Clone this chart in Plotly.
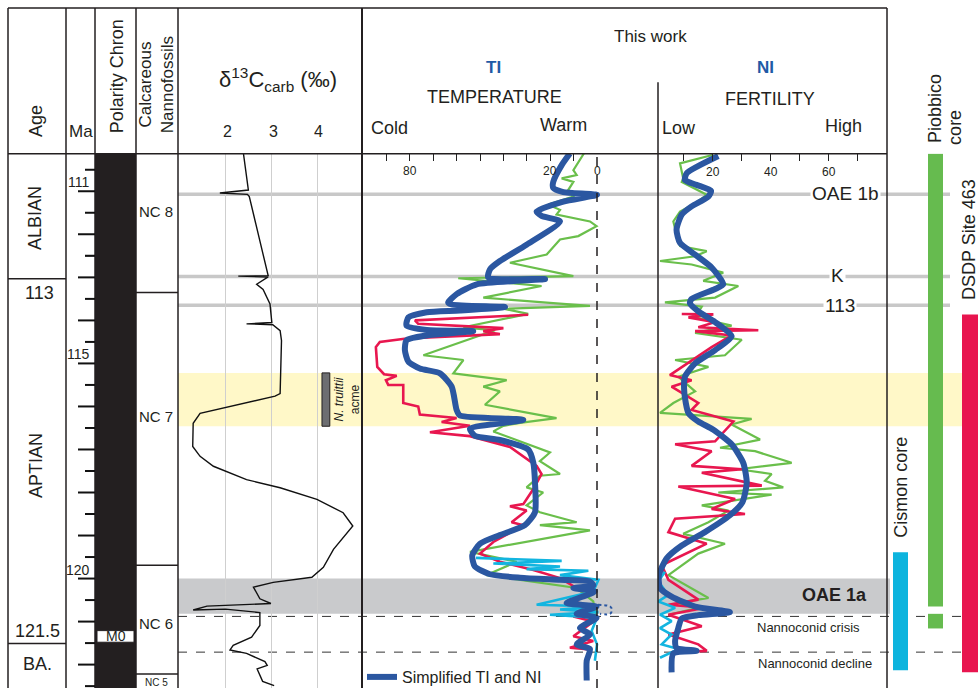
import plotly.graph_objects as go

W, H = 978, 694
FONT = "Liberation Sans, Arial, sans-serif"
DARK = "#231f20"

# ---------------- data ----------------
# delta13C carb (permil) vs age (Ma)
d13c_val = [2.39, 2.46, 2.50, 1.88, 2.48, 2.52, 2.93, 2.28, 2.93, 2.68, 2.82, 2.97, 3.01, 2.46, 3.03, 3.19, 3.22,
            3.19, 3.08, 1.45, 1.30, 1.29, 1.45, 1.74, 2.46, 3.19, 3.99, 4.56, 4.77, 4.35, 4.13, 3.88, 3.04, 2.61,
            2.75, 2.99, 1.60, 1.30, 2.00, 2.75, 2.75, 2.57, 2.17, 2.10, 2.46, 2.86, 2.91, 2.69, 2.81, 3.06]
d13c_age = [110.10, 110.74, 110.97, 111.04, 111.07, 111.12, 112.96, 112.97, 112.99, 113.16, 113.28, 113.62, 114.05,
            114.08, 114.10, 114.24, 114.47, 115.70, 115.76, 116.16, 116.39, 116.93, 117.16, 117.39, 117.70, 117.89,
            118.16, 118.47, 118.78, 119.32, 119.74, 119.97, 120.09, 120.20, 120.47, 120.58, 120.64, 120.73, 120.71,
            120.79, 121.09, 121.36, 121.55, 121.66, 121.74, 121.93, 122.02, 122.10, 122.39, 122.49]

# Temperature index (TI)
ti_blue_val = [11.6, 15.1, 18.7, 18.7, 14.4, 0.0, 14.4, 25.8, 23.7, 15.8, 30.1, 41.5, 45.7, 46.5, 22.2, 51.4, 60.0,
               63.6, 62.1, 39.3, 58.6, 72.8, 80.6, 81.4, 72.8, 52.9, 72.8, 81.4, 82.1, 80.6, 75.7, 67.1, 62.1, 60.0,
               58.6, 31.5, 54.3, 52.2, 41.5, 29.4, 27.2, 26.5, 26.5, 30.8, 41.5, 50.0, 53.3, 52.2, 45.7, 32.9, 15.8,
               3.0, 1.6, 10.1, 0.9, 13.0, 0.2, 8.7, 0.2, 7.3, 3.0, 8.7, 3.0, 4.4, 4.4]
ti_blue_age = [110.12, 110.39, 110.78, 110.92, 111.02, 111.08, 111.24, 111.47, 111.57, 111.70, 112.24, 112.62,
               112.81, 113.00, 113.04, 113.16, 113.39, 113.58, 113.63, 113.69, 113.77, 113.81, 113.93, 114.12,
               114.22, 114.25, 114.35, 114.46, 114.69, 114.96, 115.12, 115.23, 115.54, 116.08, 116.21, 116.31,
               116.52, 116.68, 116.78, 117.00, 117.31, 117.77, 118.46, 118.76, 118.99, 119.19, 119.46, 119.72,
               119.90, 119.98, 120.03, 120.07, 120.16, 120.22, 120.30, 120.57, 120.65, 120.82, 120.91, 121.15,
               121.30, 121.53, 121.64, 121.91, 122.37]

ti_red_val = [29.4, 77.8, 76.4, 40.0, 48.6, 41.5, 81.4, 92.8, 94.5, 93.9, 91.0, 85.6, 90.2, 89.2, 82.8, 82.8, 76.4,
              75.7, 60.0, 66.4, 54.3, 71.4, 54.3, 37.2, 25.8, 23.7, 27.2, 31.5, 37.2, 30.1, 36.5, 31.5, 44.3, 50.0,
              41.5, 27.2, 15.8, 8.7, 1.6, 10.1, 1.6, 10.1, 1.6, 7.3, 10.1, 1.6, 11.6, 3.0, 3.7]
ti_red_age = [113.87, 114.00, 114.08, 114.18, 114.25, 114.32, 114.42, 114.50, 114.62, 115.08, 115.25, 115.29,
              115.39, 115.50, 115.50, 115.92, 116.00, 116.19, 116.27, 116.36, 116.45, 116.60, 116.69, 116.94,
              117.38, 117.57, 117.92, 118.27, 118.32, 118.42, 118.69, 118.76, 119.15, 119.42, 119.61, 119.80,
              119.99, 120.22, 120.30, 120.53, 120.68, 120.88, 121.00, 121.22, 121.34, 121.45, 121.61, 121.65, 121.84]

ti_green_val = [5.6, 10.1, 8.7, 15.1, 10.1, 12.3, 10.1, 20.8, 15.8, 17.3, 3.0, 0.2, 8.0, 15.8, 21.5, 37.2, 10.1,
                59.3, 23.7, 48.6, 18.7, 3.0, 40.0, 29.4, 57.1, 43.6, 74.2, 57.1, 61.4, 38.6, 48.6, 41.5, 47.9, 17.3,
                32.9, 40.0, 44.3, 20.1, 24.4, 15.8, 24.4, 30.1, 23.0, 30.1, 24.4, 8.7, 24.4, 3.0, 54.3, 34.3, 47.2,
                27.2, 8.7, 1.6, 0.2]
ti_green_age = [110.12, 110.51, 110.62, 110.70, 110.78, 110.97, 111.12, 111.31, 111.43, 111.54, 111.70, 111.81,
                112.04, 112.12, 112.47, 112.66, 112.97, 113.02, 113.20, 113.47, 113.60, 113.66, 113.73, 113.85,
                114.16, 114.23, 114.81, 114.92, 115.23, 115.39, 115.54, 115.65, 115.96, 116.27, 116.38, 116.45,
                116.58, 117.07, 117.27, 117.57, 117.61, 117.88, 118.00, 118.30, 118.46, 118.69, 118.76, 118.88,
                119.38, 119.61, 119.92, 120.07, 120.22, 120.53, 120.91]

ti_cyan_val = [51.7, 15.1, 44.3, 15.8, 30.1, 3.7, 15.8, -0.6, 1.6, 25.8, 0.2, 15.8, -0.6, 20.1, 0.0, 2.3, 0.0, 0.9]
ti_cyan_age = [119.52, 119.59, 119.65, 119.72, 119.78, 119.82, 119.92, 120.03, 120.30, 120.61, 120.65, 120.72,
               120.78, 120.84, 120.91, 121.22, 121.53, 121.91]

ti_dotted_val = [-0.4, -5.6, -6.4, -5.6, -1.3]
ti_dotted_age = [120.61, 120.65, 120.72, 120.82, 120.82]

# Nutrient index (NI)
ni_blue_val = [22.0, 11.1, 10.5, 14.5, 19.5, 18.6, 12.8, 9.4, 7.6, 8.8, 14.0, 19.7, 23.7, 20.9, 12.8, 12.2, 15.1,
               20.9, 26.6, 20.9, 14.0, 10.5, 10.3, 11.7, 15.1, 20.3, 26.6, 30.6, 31.8, 30.3, 26.0, 17.4, 9.4, 4.2,
               1.5, 1.9, 5.9, 14.0, 26.0, 15.1, 9.4, 8.2, 7.1, 7.6, 14.5, 6.5, 5.9]
ni_blue_age = [110.18, 110.58, 110.74, 110.85, 110.99, 111.12, 111.35, 111.54, 111.89, 112.20, 112.47, 112.77,
               113.16, 113.27, 113.50, 113.60, 113.79, 114.04, 114.37, 114.69, 115.00, 115.31, 115.69, 116.15,
               116.35, 116.54, 116.88, 117.31, 117.77, 118.23, 118.53, 118.92, 119.23, 119.53, 119.92, 120.22,
               120.42, 120.65, 120.78, 120.85, 120.93, 121.15, 121.45, 121.61, 121.68, 121.74, 122.18]

ni_green_val = [20.3, 8.8, 9.9, 9.4, 18.0, 14.0, 8.8, 6.5, 7.6, 8.8, 18.0, 14.0, 1.9, 12.8, 23.7, 16.8, 28.9, 20.9,
                3.6, 16.3, 14.0, 26.6, 14.0, 30.1, 24.3, 7.1, 18.6, 8.2, 14.0, 6.5, 1.9, 33.5, 26.6, 36.4, 22.6,
                34.7, 47.3, 28.9, 40.4, 38.1, 44.4, 22.0, 40.4, 16.3, 25.5, 18.6, 9.9, 24.3, 15.1, 4.8, 18.6, 8.2,
                15.1, 4.8]
ni_green_age = [110.15, 110.35, 110.70, 110.78, 111.08, 111.28, 111.47, 111.70, 112.01, 112.27, 112.39, 112.51,
                112.62, 112.70, 112.89, 113.08, 113.20, 113.47, 113.58, 113.68, 113.93, 114.12, 114.29, 114.45,
                114.81, 114.92, 115.08, 115.31, 115.65, 115.92, 116.15, 116.29, 116.42, 116.77, 116.96, 117.04,
                117.31, 117.46, 117.57, 117.73, 117.88, 118.00, 118.05, 118.30, 118.42, 118.69, 118.96, 119.19,
                119.42, 119.92, 120.45, 120.57, 120.68, 120.84]

ni_red_val = [9.4, 20.3, 11.7, 20.9, 15.1, 26.6, 35.8, 14.0, 26.6, 19.7, 5.3, 12.8, 5.9, 15.1, 12.8, 27.2, 20.9, 7.1,
              19.7, 12.8, 30.1, 16.3, 37.0, 8.2, 27.8, 19.7, 31.2, 7.1, 4.8, 18.0, 2.5, 4.8, 15.1, 4.8, 17.4, 4.8,
              16.3, 4.8, 15.1, 18.0, 7.1]
ni_red_age = [113.85, 113.86, 113.93, 114.04, 114.16, 114.20, 114.23, 114.25, 114.35, 114.62, 115.27, 115.39,
              115.54, 115.92, 116.08, 116.35, 116.81, 116.88, 117.04, 117.38, 117.46, 117.54, 117.84, 117.86,
              118.15, 118.38, 118.50, 118.61, 118.92, 119.19, 119.69, 120.03, 120.49, 120.61, 120.68, 120.84,
              121.11, 121.30, 121.53, 121.68, 121.72]

ni_cyan_val = [3.6, 1.3, 4.8, 1.3, 7.1, 1.9, 5.9, 1.9, 5.9, 2.5, 8.2, 1.9]
ni_cyan_age = [119.84, 120.07, 120.38, 120.53, 120.68, 120.84, 120.99, 121.15, 121.30, 121.53, 121.64, 121.84]

# events / zones (Ma)
event_lines = {"OAE 1b": 111.07, "K": 112.98, "113": 113.65}
truittii_acme = (115.22, 116.46)
oae1a = (120.00, 120.82)
nannoconid_crisis = 120.88
nannoconid_decline = 121.71
stage_bounds = [113.03, 121.51]
nc_bounds = [113.35, 119.69, 122.22]
m0_chron = (121.21, 121.48)
ma_ticks = [110.5 + 0.5 * i for i in range(25)]
ma_labels = [111, 115, 120]
piobbico = [(110.12, 120.65), (120.82, 121.16)]
cismon = (119.39, 122.13)
dsdp463 = (113.86, 122.18)

ti_ticks = [90, 80, 70, 60, 50, 40, 30, 20, 10]
ni_ticks = [10, 20, 30, 40, 50, 60, 70]

# ---------------- layout helpers ----------------
AGE_TOP = 111 - 38 / 43.4
AGE_BOT = 111 + 501 / 43.4
YTOP = 1 - 155 / H


def px(x):
    return x / W


def py(y):
    return 1 - y / H


shapes = []
ann = []


def pline(x0, y0, x1, y1, color=DARK, width=1.5, dash=None, layer="above"):
    shapes.append(dict(type="line", xref="paper", yref="paper", x0=px(x0), x1=px(x1), y0=py(y0), y1=py(y1),
                       line=dict(color=color, width=width, dash=dash), layer=layer))


def hline_age(age, x0, x1, color=DARK, width=1.5, dash=None, layer="above"):
    shapes.append(dict(type="line", xref="paper", yref="y", x0=px(x0), x1=px(x1), y0=age, y1=age,
                       line=dict(color=color, width=width, dash=dash), layer=layer))


def rect_age(a0, a1, x0, x1, fill, line=None, layer="below"):
    shapes.append(dict(type="rect", xref="paper", yref="y", x0=px(x0), x1=px(x1), y0=a0, y1=a1,
                       fillcolor=fill, line=dict(width=1 if line else 0, color=line or fill), layer=layer))


def txt(x, y, s, size=16, color=DARK, angle=0, bold=False, bg=None, xanchor="center"):
    if bold:
        s = "<b>" + s + "</b>"
    d = dict(x=px(x), y=py(y), xref="paper", yref="paper", text=s, showarrow=False,
             textangle=angle, font=dict(size=size, color=color, family=FONT), xanchor=xanchor, yanchor="middle")
    if bg:
        d.update(bgcolor=bg, borderpad=1)
    ann.append(d)


# background bands
rect_age(truittii_acme[0], truittii_acme[1], 178, 978, "#fff8c8")
rect_age(oae1a[0], oae1a[1], 178, 890, "#c9cacc")
for name, a in event_lines.items():
    hline_age(a, 178, 950, color="#c8c8c8", width=3.5, layer="below")
hline_age(nannoconid_crisis, 178, 962, color="#333333", width=1, dash="dash", layer="below")
hline_age(nannoconid_decline, 178, 962, color="#333333", width=1, dash="dash", layer="below")

# polarity column
shapes.append(dict(type="rect", xref="paper", yref="paper", x0=px(95), x1=px(136), y0=0, y1=YTOP,
                   fillcolor="#231f20", line=dict(width=0)))
rect_age(m0_chron[0], m0_chron[1], 97, 134, "white", line="#231f20", layer="above")
ann.append(dict(x=px(116), y=sum(m0_chron) / 2, xref="paper", yref="y", text="M0", showarrow=False,
                font=dict(size=14, color=DARK, family=FONT), xanchor="center", yanchor="middle"))

# table frame
pline(8, 8, 887, 8)
pline(8, 155, 887, 155)
for xv in [8, 66, 95, 136, 178]:
    pline(xv, 8, xv, 694)
pline(362, 8, 362, 694, width=2)
pline(887, 8, 887, 694)
pline(658, 83, 658, 694, width=1.5)

# stage boundaries & NC zones
for a in stage_bounds:
    hline_age(a, 8, 66)
for a in nc_bounds:
    hline_age(a, 136, 178)

# Ma ticks
for t in ma_ticks:
    long_tick = abs(t - round(t)) < 1e-6
    hline_age(t, 78 if long_tick else 85, 95, color="#111111", width=2)
for m in ma_labels:
    ann.append(dict(x=px(78), y=m, xref="paper", yref="y", text=str(m), showarrow=False,
                    font=dict(size=14, color=DARK, family=FONT), xanchor="center", yanchor="bottom", yshift=-1))

# N. truittii acme box
shapes.append(dict(type="rect", xref="x", yref="y", x0=4.10, x1=4.27, y0=truittii_acme[0], y1=truittii_acme[1],
                   fillcolor="#6d6e71", line=dict(color="#231f20", width=1)))

# TI zero line
shapes.append(dict(type="line", xref="x2", yref="paper", x0=0, x1=0, y0=0, y1=YTOP,
                   line=dict(color="#231f20", width=1.5, dash="dash")))

# core bars
for a0, a1 in piobbico:
    rect_age(a0, a1, 928, 943, "#66bb4f", layer="above")
rect_age(cismon[0], cismon[1], 893, 908, "#0db4de", layer="above")
rect_age(dsdp463[0], dsdp463[1], 962, 978, "#e8154f", layer="above")

# ---------------- traces ----------------
fig = go.Figure()
fig.add_trace(go.Scatter(x=d13c_val, y=d13c_age, xaxis="x", yaxis="y", mode="lines",
                         line=dict(color="#111111", width=1.4), showlegend=False))

BLUE = "#2b57a1"
RED = "#e8174f"
GREEN = "#6abf4b"
CYAN = "#12b5e0"

for xa, gv, ga, rv, ra, cv, ca, bv, ba in [
    ("x2", ti_green_val, ti_green_age, ti_red_val, ti_red_age, ti_cyan_val, ti_cyan_age, ti_blue_val, ti_blue_age),
    ("x3", ni_green_val, ni_green_age, ni_red_val, ni_red_age, ni_cyan_val, ni_cyan_age, ni_blue_val, ni_blue_age)]:
    fig.add_trace(go.Scatter(x=gv, y=ga, xaxis=xa, yaxis="y", mode="lines",
                             line=dict(color=GREEN, width=2.2), showlegend=False))
    fig.add_trace(go.Scatter(x=rv, y=ra, xaxis=xa, yaxis="y", mode="lines",
                             line=dict(color=RED, width=2.6), showlegend=False))
    fig.add_trace(go.Scatter(x=cv, y=ca, xaxis=xa, yaxis="y", mode="lines",
                             line=dict(color=CYAN, width=2.6), showlegend=False))
    fig.add_trace(go.Scatter(x=bv, y=ba, xaxis=xa, yaxis="y", mode="lines", name="Simplified TI and NI",
                             line=dict(color=BLUE, width=6, shape="spline", smoothing=0.6),
                             showlegend=(xa == "x2")))

fig.add_trace(go.Scatter(x=ti_dotted_val, y=ti_dotted_age, xaxis="x2", yaxis="y", mode="lines",
                         line=dict(color=BLUE, width=2, dash="dot", shape="spline"), showlegend=False))

# ---------------- text ----------------
# header
txt(36, 122, "Age", size=18, angle=-90)
txt(81, 133, "Ma", size=17)
txt(117, 77, "Polarity Chron", size=18, angle=-90)
txt(156, 86, "Calcareous<br>Nannofossils", size=17, angle=-90)
txt(278, 80, "δ<sup>13</sup>C<sub>carb</sub> (‰)", size=22)
for v, xx in zip([2, 3, 4], [227, 273, 318]):
    txt(xx, 133, str(v), size=16)
txt(650, 37, "This work", size=17)
txt(493, 68, "TI", size=17, color="#1f5aa6", bold=True)
txt(765, 68, "NI", size=17, color="#1f5aa6", bold=True)
txt(495, 98, "TEMPERATURE", size=18)
txt(770, 100, "FERTILITY", size=18)
txt(389, 129, "Cold", size=18)
txt(563, 126, "Warm", size=18)
txt(679, 129, "Low", size=18)
txt(843, 127, "High", size=18)

# axis number labels
for v in [80, 20, 0]:
    txt(597 - v * 2.34, 172, str(v), size=12)
for v in [20, 40, 60]:
    txt(654.5 + v * 2.9, 174, str(v), size=12)

# left columns
txt(35, 220, "ALBIAN", size=18, angle=-90)
txt(39, 296, "113", size=18)
txt(36, 470, "APTIAN", size=18, angle=-90)
txt(37, 636, "121.5", size=18)
txt(37, 670, "BA.", size=18)
txt(156, 213, "NC 8", size=15)
txt(156, 420, "NC 7", size=15)
txt(156, 629, "NC 6", size=15)
txt(156, 688, "NC 5", size=10)

txt(347, 403, "<i>N. truittii</i><br>acme", size=12, angle=-90)

# event labels
txt(845, 195, "OAE 1b", size=19, bg="white")
txt(837, 278, "K", size=19, bg="white")
txt(840, 308, "113", size=19, bg="white")
txt(834, 600, "OAE 1a", size=18, bold=True)
txt(808, 633, "Nannoconid crisis", size=13)
txt(815, 669, "Nannoconid decline", size=13)

# right section
txt(935, 110, "Piobbico", size=18, angle=-90)
txt(955, 129, "core", size=18, angle=-90)
txt(969, 242, "DSDP Site 463", size=18, angle=-90)
txt(901, 492, "Cismon core", size=18, angle=-90)

common_x = dict(showticklabels=False, zeroline=False, showline=False, anchor="y")
fig.update_layout(
    width=W, height=H, margin=dict(l=0, r=0, t=0, b=0),
    paper_bgcolor="white", plot_bgcolor="rgba(0,0,0,0)",
    font=dict(family=FONT, color=DARK),
    yaxis=dict(domain=[0, YTOP], range=[AGE_BOT, AGE_TOP], showgrid=False, showticklabels=False,
               zeroline=False, ticks=""),
    xaxis=dict(domain=[px(178), px(362)], range=[0.97, 4.97], tickvals=[2, 3, 4], showgrid=True,
               gridcolor="#cfcfcf", gridwidth=1, ticks="", **common_x),
    xaxis2=dict(domain=[px(362), px(658)], range=[(597 - 362) / 2.34, (597 - 658) / 2.34], side="top",
                tickvals=ti_ticks, ticks="inside", ticklen=7, tickcolor="#222", tickwidth=1, showgrid=False,
                **common_x),
    xaxis3=dict(domain=[px(658), px(887)], range=[(658 - 654.5) / 2.9, (887 - 654.5) / 2.9], side="top",
                tickvals=ni_ticks, ticks="inside", ticklen=7, tickcolor="#222", tickwidth=1, showgrid=False,
                **common_x),
    shapes=shapes, annotations=ann,
    legend=dict(x=px(362), y=py(683), xanchor="left", yanchor="middle", bgcolor="rgba(0,0,0,0)",
                font=dict(size=16, family=FONT, color=DARK), itemwidth=30),
    showlegend=True,
)

fig.write_html("out.html", config={"displayModeBar": False},
               post_script="document.body.style.margin='0';document.body.style.overflow='hidden';")
